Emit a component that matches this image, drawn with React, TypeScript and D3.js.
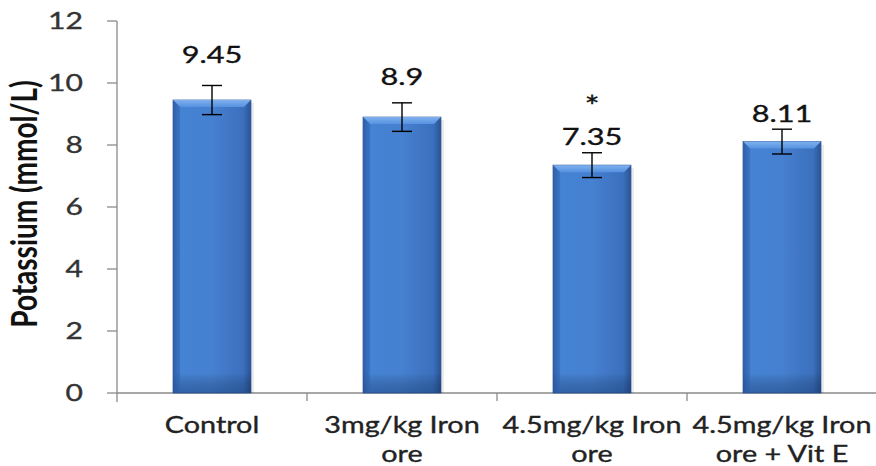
import React from "react";
import * as d3 from "d3";

const categories: string[][] = [
  ["Control"],
  ["3mg/kg Iron", "ore"],
  ["4.5mg/kg Iron", "ore"],
  ["4.5mg/kg Iron", "ore + Vit E"],
];
const means: number[] = [9.45, 8.9, 7.35, 8.11];
const errors: number[] = [0.47, 0.46, 0.4, 0.4];
const valueLabels: string[] = ["9.45", "8.9", "7.35", "8.11"];
const significance: string[] = ["", "", "*", ""];
const yTicks: number[] = [0, 2, 4, 6, 8, 10, 12];
const yTitle = "Potassium (mmol/L)";

const W = 876;
const H = 466;
const SX = 1.28; // horizontal stretch of the reference text
const FONT = "Lato, 'Open Sans', sans-serif";
// label gap above bar top (px)
const labelGap = [37, 32, 20, 20];

export default function App() {
  const x = d3
    .scaleBand<number>()
    .domain(d3.range(categories.length))
    .range([117, 877])
    .paddingInner(0.59)
    .paddingOuter(0.295);
  const y = d3.scaleLinear().domain([0, 12]).range([393, 21]);
  const bw = x.bandwidth();
  const step = x.step();
  const axisColor = "#8a8a8a";
  const heavy = { stroke: "currentColor", strokeWidth: 0.35 } as const;

  return (
    <svg
      width={W}
      height={H}
      style={{ position: "absolute", left: 0, top: 0, background: "#fff" }}
      fontFamily={FONT}
    >
      <defs>
        <linearGradient id="barGrad" x1="0" x2="1" y1="0" y2="0">
          <stop offset="0" stopColor="#2d5da6" />
          <stop offset="0.08" stopColor="#4583d4" />
          <stop offset="0.5" stopColor="#4680d0" />
          <stop offset="0.9" stopColor="#3b70bd" />
          <stop offset="1" stopColor="#2a5394" />
        </linearGradient>
        <linearGradient id="topGrad" x1="0" x2="0" y1="0" y2="1">
          <stop offset="0" stopColor="#7fb0ee" />
          <stop offset="1" stopColor="#5592e0" />
        </linearGradient>
        <linearGradient id="botGrad" x1="0" x2="0" y1="0" y2="1">
          <stop offset="0" stopColor="#000" stopOpacity="0" />
          <stop offset="1" stopColor="#0a2a5a" stopOpacity="0.35" />
        </linearGradient>
      </defs>
      <rect width={W} height={H} fill="#fff" />

      {/* y axis */}
      <line x1={117} x2={117} y1={y(12)} y2={402} stroke={axisColor} strokeWidth={1.3} />
      {yTicks.map((t) => (
        <g key={t} style={{ color: "#333" }}>
          <line x1={107} x2={117} y1={y(t)} y2={y(t)} stroke={axisColor} strokeWidth={1.3} />
          <text
            transform={`translate(83,${y(t) + 8.3}) scale(${SX},1)`}
            textAnchor="end"
            fontSize={23.5}
            fill="#333"
            {...heavy}
          >
            {t}
          </text>
        </g>
      ))}
      <text
        transform={`translate(37,204) scale(${SX},1) rotate(-90)`}
        textAnchor="middle"
        fontSize={28}
        fontWeight="bold"
        fill="#111"
      >
        {yTitle}
      </text>

      {/* x axis */}
      <line x1={117} x2={877} y1={y(0)} y2={y(0)} stroke={axisColor} strokeWidth={1.3} />
      {categories.map((_, i) => (
        <line
          key={i}
          x1={117 + step * (i + 1)}
          x2={117 + step * (i + 1)}
          y1={y(0)}
          y2={401}
          stroke={axisColor}
          strokeWidth={1.3}
        />
      ))}

      {/* bars */}
      {means.map((v, i) => {
        const x0 = x(i)!;
        const top = y(v);
        const bev = 7;
        const cx = x0 + bw / 2;
        return (
          <g key={i} style={{ color: "#111" }}>
            <rect x={x0 + 3} y={top + 3} width={bw} height={y(0) - top - 3} fill="#000" opacity={0.08} />
            <rect x={x0} y={top} width={bw} height={y(0) - top} fill="url(#barGrad)" stroke="#2b5592" strokeWidth={0.8} />
            <rect x={x0} y={y(0) - 20} width={bw} height={20} fill="url(#botGrad)" />
            <polygon
              points={`${x0},${top} ${x0 + bw},${top} ${x0 + bw - bev},${top + bev} ${x0 + bev},${top + bev}`}
              fill="url(#topGrad)"
            />
            <polygon
              points={`${x0},${top} ${x0 + bev},${top + bev} ${x0 + bev},${y(0)} ${x0},${y(0)}`}
              fill="#2f62ad"
              opacity={0.5}
            />
            {/* error bar */}
            <line x1={cx} x2={cx} y1={y(v + errors[i])} y2={y(v - errors[i])} stroke="#000" strokeWidth={1.4} />
            <line x1={cx - 10} x2={cx + 10} y1={y(v + errors[i])} y2={y(v + errors[i])} stroke="#000" strokeWidth={1.4} />
            <line x1={cx - 10} x2={cx + 10} y1={y(v - errors[i])} y2={y(v - errors[i])} stroke="#000" strokeWidth={1.4} />
            <text
              transform={`translate(${cx},${top - labelGap[i]}) scale(${SX},1)`}
              textAnchor="middle"
              fontSize={24}
              fill="#111"
              {...heavy}
            >
              {valueLabels[i]}
            </text>
            {significance[i] && (
              <text
                transform={`translate(${cx},${top - labelGap[i] - 28}) scale(${SX},1)`}
                textAnchor="middle"
                fontSize={28}
                fill="#111"
                {...heavy}
              >
                {significance[i]}
              </text>
            )}
            {categories[i].map((line, j) => (
              <text
                key={j}
                transform={`translate(${cx},${433 + j * 29}) scale(${SX},1)`}
                textAnchor="middle"
                fontSize={22.5}
                fill="#222"
                style={{ color: "#222" }}
                {...heavy}
              >
                {line}
              </text>
            ))}
          </g>
        );
      })}
    </svg>
  );
}
